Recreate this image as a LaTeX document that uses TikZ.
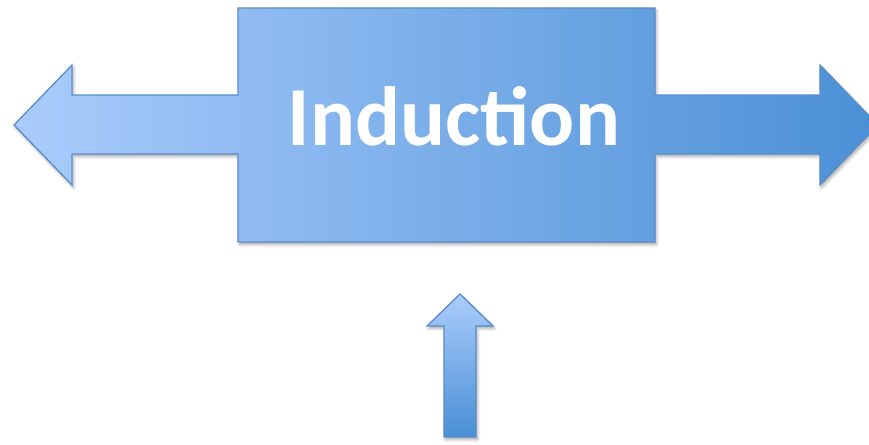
\documentclass[tikz,border=0pt]{standalone}
\usepackage{fontspec}
\setmainfont{Carlito}
\usetikzlibrary{shadows.blur}
\definecolor{lightb}{HTML}{AACCFC}
\definecolor{darkb}{HTML}{4A8FD5}
\definecolor{edgeb}{HTML}{5A8DCC}
\tikzset{
  shape3d/.style={draw=edgeb, line width=1.3pt, line join=miter,
    blur shadow={shadow xshift=1.5pt, shadow yshift=-2.5pt, shadow blur steps=6, shadow blur radius=3pt, shadow opacity=35}},
  label3d/.style={text=white, font=\bfseries\fontsize{84}{92}\selectfont, inner sep=0pt}
}
\begin{document}
\begin{tikzpicture}[x=1pt,y=-1pt]
\useasboundingbox (0,0) rectangle (869,444);
\clip (0,0) rectangle (869,444);
% main shape: box with two side arrows
\path[shape3d, left color=lightb, right color=darkb]
  (14,125) -- (72,65) -- (72,95) -- (238,95) -- (238,8) -- (655,8) -- (655,95)
  -- (820,95) -- (820,65) -- (878,125) -- (820,185) -- (820,154) -- (655,154)
  -- (655,242) -- (238,242) -- (238,154) -- (72,154) -- (72,185) -- cycle;
\node[label3d, anchor=base] (ind) at (454,145) {Induction};
% up arrow
\path[shape3d, top color=lightb, bottom color=darkb]
  (460,294) -- (493,326) -- (476,326) -- (476,437) -- (444,437) -- (444,326) -- (427,326) -- cycle;
\end{tikzpicture}
\end{document}
